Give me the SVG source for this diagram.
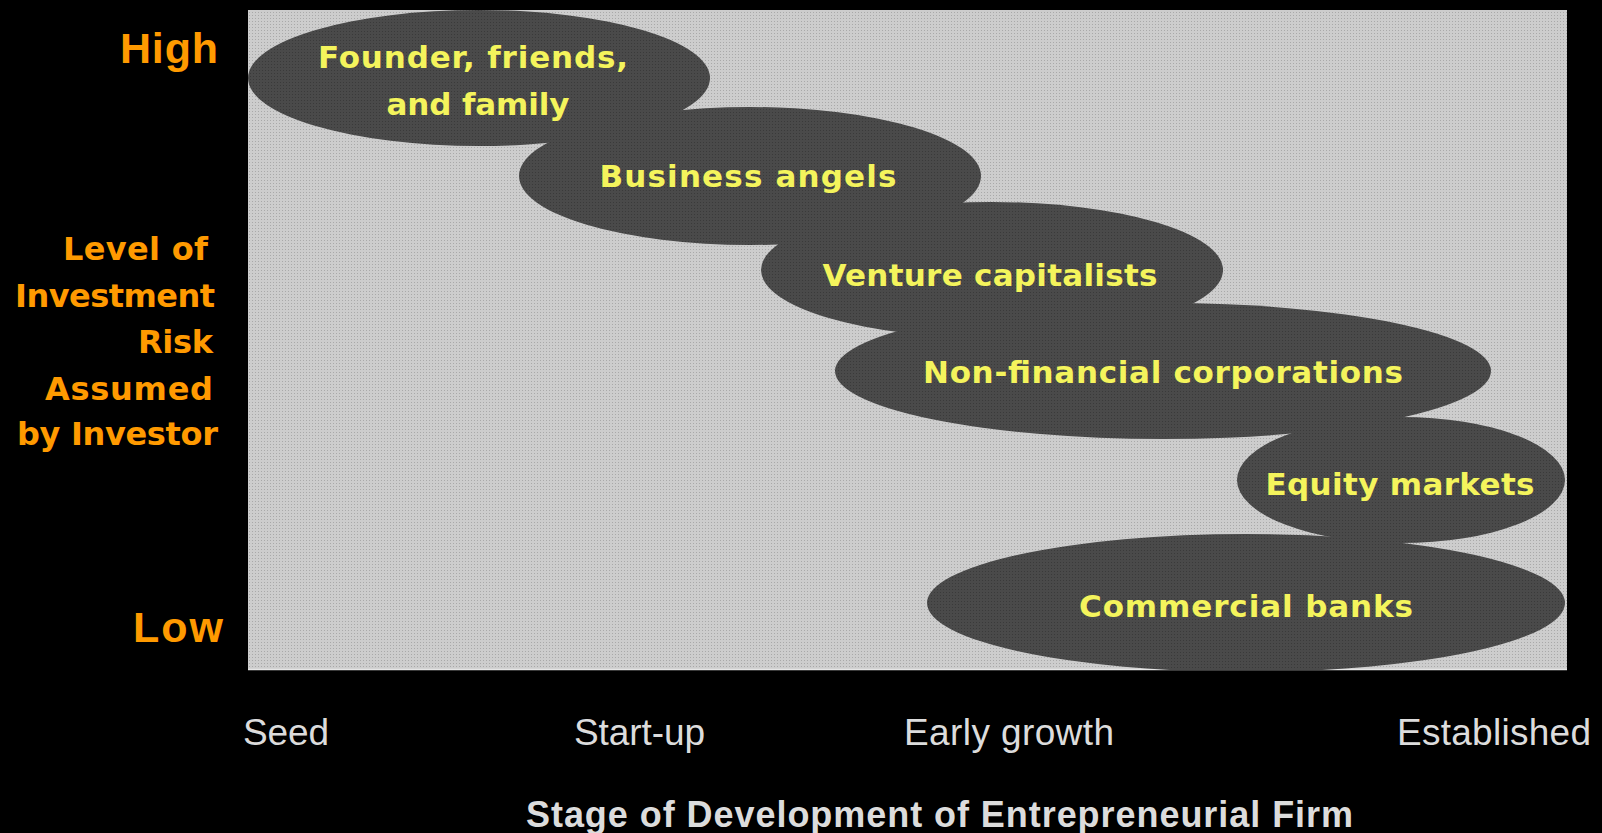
<svg xmlns="http://www.w3.org/2000/svg" width="1602" height="833" viewBox="0 0 1602 833">
<defs>
<pattern id="bgTex" width="3" height="3" patternUnits="userSpaceOnUse">
<rect width="3" height="3" fill="#cdcdcd"/>
<rect x="0" y="0" width="1" height="1" fill="#a9a9a9"/>
</pattern>
<pattern id="ellTex" width="3" height="3" patternUnits="userSpaceOnUse">
<rect width="3" height="3" fill="#4a4a4a"/>
<rect x="1" y="1" width="1" height="1" fill="#3a3a3a"/>
</pattern>
</defs>
<style>
.ell{fill:url(#ellTex);stroke:none}
.nt{font-family:"DejaVu Sans",sans-serif;font-weight:bold;font-size:31px;fill:#f4f45c;text-anchor:middle}
.yl{font-family:"DejaVu Sans",sans-serif;font-weight:bold;font-size:32px;fill:#ff9a00}
.hl{font-family:"Liberation Sans",Arial,sans-serif;font-weight:bold;font-size:43px;fill:#ff9a00}
.xl{font-family:"Liberation Sans",Arial,sans-serif;font-size:37px;fill:#dcdcdc}
.tt{font-family:"Liberation Sans",Arial,sans-serif;font-weight:bold;font-size:36px;fill:#dcdcdc}
</style>
<rect width="1602" height="833" fill="#000"/>
<rect id="plot" x="248" y="10" width="1319" height="660" fill="url(#bgTex)"/>
<line x1="248" y1="669.5" x2="1567" y2="669.5" stroke="#e6e6e6" stroke-width="1.5"/>
<clipPath id="plotClip"><rect x="248" y="10" width="1319" height="660"/></clipPath>
<g clip-path="url(#plotClip)">
<g id="node-founder"><ellipse class="ell" cx="479" cy="78" rx="231" ry="68"/></g>
<g id="node-angels"><ellipse class="ell" cx="750" cy="176" rx="231" ry="69"/></g>
<g id="node-venture"><ellipse class="ell" cx="992" cy="270" rx="231" ry="68"/></g>
<g id="node-nonfin"><ellipse class="ell" cx="1163" cy="371" rx="328" ry="68"/></g>
<g id="node-equity"><ellipse class="ell" cx="1401" cy="480" rx="164" ry="63"/></g>
<g id="node-banks"><ellipse class="ell" cx="1246" cy="603" rx="319" ry="69"/></g>
</g>
<g id="labels">
<text class="nt" x="473" y="68" textLength="310">Founder, friends,</text>
<text class="nt" x="478" y="115" textLength="183">and family</text>
<text class="nt" x="748" y="187" textLength="297">Business angels</text>
<text class="nt" x="990" y="286" textLength="335">Venture capitalists</text>
<text class="nt" x="1163" y="383" textLength="480">Non-financial corporations</text>
<text class="nt" x="1400" y="495" textLength="269">Equity markets</text>
<text class="nt" x="1246" y="617" textLength="334">Commercial banks</text>
</g>
<g id="y-axis">
<text class="hl" x="120" y="63" textLength="98">High</text>
<text class="yl" x="63" y="260" textLength="145">Level of</text>
<text class="yl" x="15" y="307" textLength="200">Investment</text>
<text class="yl" x="138" y="353" textLength="75">Risk</text>
<text class="yl" x="45" y="400" textLength="168">Assumed</text>
<text class="yl" x="17" y="445" textLength="201">by Investor</text>
<text class="hl" x="133" y="642" textLength="90">Low</text>
</g>
<g id="x-axis">
<text class="xl" x="243" y="745" textLength="86">Seed</text>
<text class="xl" x="574" y="745" textLength="131">Start-up</text>
<text class="xl" x="904" y="745" textLength="210">Early growth</text>
<text class="xl" x="1397" y="745" textLength="194">Established</text>
<text class="tt" x="526" y="827" textLength="827">Stage of Development of Entrepreneurial Firm</text>
</g>
</svg>
